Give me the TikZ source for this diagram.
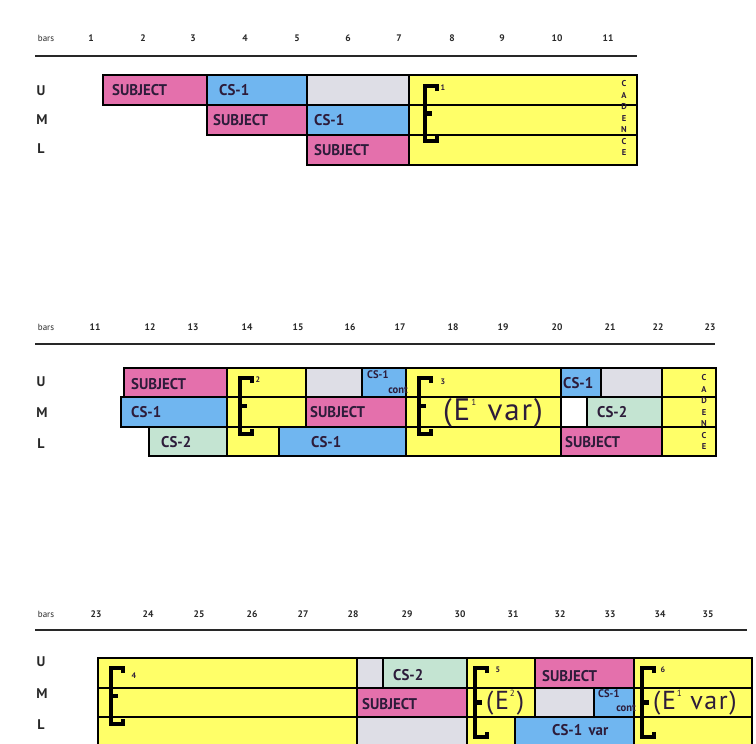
\documentclass[tikz,border=0pt]{standalone}
\usepackage{fontspec}
\setmainfont{PT Sans}
\newfontfamily\labfont[FakeStretch=0.96]{PT Sans}
\newfontfamily\bigfont[LetterSpace=6]{PT Sans}
\definecolor{pinkc}{RGB}{228,112,172}
\definecolor{bluec}{RGB}{112,182,240}
\definecolor{greyc}{RGB}{222,222,230}
\definecolor{yelc}{RGB}{255,255,104}
\definecolor{greenc}{RGB}{196,228,210}
\definecolor{txt}{RGB}{45,28,58}
\definecolor{rulec}{RGB}{40,40,40}
\newcommand\bx[5]{\draw[#5] (#1,#2) rectangle (#3,#4);}
\newcommand\ebr[3]{%
  \draw[brk] ({#1+12},{#2+5}) -- ({#1+12},#2) -- (#1,#2) -- (#1,#3) -- ({#1+12},#3) -- ({#1+12},{#3-5});
  \draw[brk] (#1,{(#2+#3)/2}) -- ({#1+7},{(#2+#3)/2});}
\newcommand\smsup[1]{\kern1pt\raisebox{0.5em}{\fontsize{9}{9}\selectfont #1}\kern2pt}
\begin{document}
\begin{tikzpicture}[x=1pt,y=-1pt,
  box/.style={draw=black,line width=1.4pt},
  pk/.style={box,fill=pinkc},
  bl/.style={box,fill=bluec},
  gy/.style={box,fill=greyc},
  ye/.style={box,fill=yelc},
  gn/.style={box,fill=greenc},
  wh/.style={box,fill=white},
  lbl/.style={anchor=west,inner sep=0pt,text=txt,font=\labfont\bfseries\fontsize{15.5}{15.5}\selectfont},
  sml/.style={anchor=west,inner sep=0pt,text=txt,font=\labfont\bfseries\fontsize{11}{11}\selectfont},
  num/.style={inner sep=0pt,text=rulec,font=\bfseries\fontsize{9.5}{9.5}\selectfont},
  barsl/.style={inner sep=0pt,text=rulec,font=\fontsize{9}{9}\selectfont},
  rowl/.style={inner sep=0pt,text=rulec,font=\bfseries\fontsize{14}{14}\selectfont},
  sup/.style={inner sep=0pt,text=txt,font=\bfseries\fontsize{8}{8}\selectfont},
  big/.style={inner sep=0pt,anchor=west,text=txt,font=\bigfont\fontsize{31}{31}\selectfont},
  bigb/.style={inner sep=0pt,anchor=west,text=txt,font=\bigfont\fontsize{26}{26}\selectfont},
  cad/.style={inner sep=0pt,text=txt,align=center,font=\bfseries\fontsize{8.5}{11.5}\selectfont},
  brk/.style={line width=4.5pt,draw=black},
  rule/.style={line width=2.2pt,draw=rulec}]
\useasboundingbox (0,0) rectangle (756,744);
\clip (0,0) rectangle (756,744);
\fill[white] (0,0) rectangle (756,744);

% ---------------- section 1 ----------------
\node[barsl] (bars1) at (46,38) {bars};
\foreach \n/\x in {1/91,2/143,3/193,4/245,5/297,6/348,7/399,8/452,9/502,10/557,11/608}
  \node[num] (a\n) at (\x,38) {\n};
\draw[rule] (35,56) -- (637,56);
\node[rowl] (aU) at (41,91) {U};
\node[rowl] (aM) at (42,120) {M};
\node[rowl] (aL) at (41,149) {L};

\bx{103}{75}{207}{105}{pk}
\bx{207}{75}{307}{105}{bl}
\bx{307}{75}{409}{105}{gy}
\bx{207}{105}{307}{135}{pk}
\bx{307}{105}{409}{135}{bl}
\bx{307}{135}{409}{165}{pk}
\bx{409}{75}{637}{105}{ye}
\bx{409}{105}{637}{135}{ye}
\bx{409}{135}{637}{165}{ye}
\node[lbl] (s1) at (112,90) {SUBJECT};
\node[lbl] (c1) at (219,90) {CS-1};
\node[lbl] (s2) at (213,120) {SUBJECT};
\node[lbl] (c2) at (314,120) {CS-1};
\node[lbl] (s3) at (314,150) {SUBJECT};
\ebr{425}{86}{141}
\node[sup] (e1) at (443,88) {1};
\node[cad] (cad1) at (624,118) {C\\A\\D\\E\\N\\C\\E};

% ---------------- section 2 ----------------
\node[barsl] (bars2) at (46,327) {bars};
\foreach \n/\x in {11/95,12/150,13/193,14/247,15/298,16/350,17/400,18/453,19/503,20/557,21/610,22/658,23/710}
  \node[num] (b\n) at (\x,327) {\n};
\draw[rule] (35,344) -- (715,344);
\node[rowl] (bU) at (41,382) {U};
\node[rowl] (bM) at (42,413) {M};
\node[rowl] (bL) at (41,444) {L};

\bx{124}{368}{227}{397}{pk}
\bx{227}{368}{306}{397}{ye}
\bx{306}{368}{362}{397}{gy}
\bx{362}{368}{406}{397}{bl}
\bx{406}{368}{561}{397}{ye}
\bx{561}{368}{601}{397}{bl}
\bx{601}{368}{662}{397}{gy}
\bx{662}{368}{716}{397}{ye}
\bx{121}{397}{227}{427}{bl}
\bx{227}{397}{306}{427}{ye}
\bx{306}{397}{406}{427}{pk}
\bx{406}{397}{561}{427}{ye}
\bx{561}{397}{587}{427}{wh}
\bx{587}{397}{662}{427}{gn}
\bx{662}{397}{716}{427}{ye}
\bx{149}{427}{227}{456}{gn}
\bx{227}{427}{279}{456}{ye}
\bx{279}{427}{406}{456}{bl}
\bx{406}{427}{561}{456}{ye}
\bx{561}{427}{662}{456}{pk}
\bx{662}{427}{716}{456}{ye}
\node[lbl] (s4) at (131,384) {SUBJECT};
\node[lbl] (c3) at (131,412) {CS-1};
\node[lbl] (c4) at (161,442) {CS-2};
\node[sml] (c5) at (367,375) {CS-1};
\node[sml,anchor=east] (c5b) at (408,390) {cont};
\node[lbl] (s5) at (310,412) {SUBJECT};
\node[lbl] (c6) at (311,442) {CS-1};
\node[lbl] (c7) at (563,383) {CS-1};
\node[lbl] (c8) at (597,412) {CS-2};
\node[lbl] (s6) at (565,442) {SUBJECT};
\ebr{240}{378}{434}
\node[sup] (e2) at (258,380) {2};
\ebr{419}{378}{434}
\node[sup] (e3) at (443,382) {3};
\node[big] (v1) at (443,413) {(E\smsup{1}\hspace{0.3em}var)};
\node[cad] (cad2) at (704,412) {C\\A\\D\\E\\N\\C\\E};

% ---------------- section 3 ----------------
\node[barsl] (bars3) at (46,614) {bars};
\foreach \n/\x in {23/96,24/148,25/199,26/252,27/303,28/353,29/407,30/460,31/513,32/560,33/610,34/660,35/708}
  \node[num] (c\n) at (\x,614) {\n};
\draw[rule] (35,630) -- (747,630);
\node[rowl] (cU) at (41,662) {U};
\node[rowl] (cM) at (42,694) {M};
\node[rowl] (cL) at (41,725) {L};

\bx{98}{658}{357}{688}{ye}
\bx{98}{688}{357}{717}{ye}
\bx{98}{717}{357}{747}{ye}
\bx{357}{658}{383}{688}{gy}
\bx{383}{658}{467}{688}{gn}
\bx{467}{658}{535}{688}{ye}
\bx{535}{658}{634}{688}{pk}
\bx{634}{658}{752}{688}{ye}
\bx{357}{688}{467}{717}{pk}
\bx{467}{688}{535}{717}{ye}
\bx{535}{688}{594}{717}{gy}
\bx{594}{688}{634}{717}{bl}
\bx{634}{688}{752}{717}{ye}
\bx{357}{717}{467}{747}{gy}
\bx{467}{717}{515}{747}{ye}
\bx{515}{717}{634}{747}{bl}
\bx{634}{717}{752}{747}{ye}
\node[lbl] (c9) at (393,675) {CS-2};
\node[lbl] (s7) at (542,676) {SUBJECT};
\node[lbl] (s8) at (362,704) {SUBJECT};
\node[sml] (c10) at (598,694) {CS-1};
\node[sml,anchor=east] (c10b) at (636,708) {cont};
\node[lbl] (c11) at (552,730) {CS-1 \,var};
\ebr{111}{668}{724}
\node[sup] (e4) at (134,676) {4};
\ebr{475}{668}{737}
\node[sup] (e5) at (498,670) {5};
\node[bigb] (v2) at (486,703) {(E\smsup{2})};
\ebr{642}{668}{737}
\node[sup] (e6) at (663,670) {6};
\node[bigb] (v3) at (653,703) {(E\smsup{1}\hspace{0.25em}var)};
\end{tikzpicture}
\end{document}
